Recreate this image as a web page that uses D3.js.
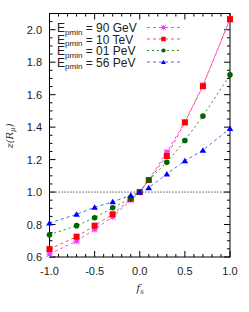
<!DOCTYPE html>
<html><head><meta charset="utf-8">
<script src="https://cdn.jsdelivr.net/npm/d3@7"></script>
<style>body{margin:0;background:#fff}svg{display:block}</style>
</head><body>
<svg id="c" width="249" height="312"></svg>
<script>
const fs = [-1.0, -0.7, -0.5, -0.3, -0.1, 0.0, 0.1, 0.3, 0.5, 0.7, 1.0];
const ser90GeV = [0.618, 0.698, 0.770, 0.848, 0.951, 1.0, 1.075, 1.246, 1.432, 1.658, 2.068];
const ser10TeV = [0.649, 0.725, 0.793, 0.863, 0.958, 1.0, 1.074, 1.222, 1.429, 1.652, 2.065];
const ser01PeV = [0.737, 0.793, 0.842, 0.903, 0.961, 1.0, 1.074, 1.183, 1.318, 1.468, 1.722];
const ser56PeV = [0.809, 0.863, 0.906, 0.940, 0.980, 1.0, 1.027, 1.111, 1.193, 1.258, 1.392];
const labels = ["90 GeV", "10 TeV", "01 PeV", "56 PeV"];
const xTicks = [-1.0, -0.5, 0.0, 0.5, 1.0];
const yTicks = [0.6, 0.8, 1.0, 1.2, 1.4, 1.6, 1.8, 2.0];

const series = [
  {vals: ser90GeV, color: "#ff33ff", sym: "x", dash: "3,3"},
  {vals: ser10TeV, color: "#ff0000", sym: "sq", dash: "3,3"},
  {vals: ser01PeV, color: "#006400", sym: "ci", dash: "2,3"},
  {vals: ser56PeV, color: "#0000ff", sym: "tr", dash: "3,3"}
];
const lineColors = ["#ff44ff", "#ff5050", "#338833", "#4466ff"];

const svg = d3.select("#c");
const L = 49.5, R = 230, T = 13.5, B = 257;
const x = d3.scaleLinear().domain([-1, 1]).range([L, R]);
const y = d3.scaleLinear().domain([0.6, 2.1]).range([B, T]);
const font = "'Liberation Sans', Arial, sans-serif";

svg.append("rect").attr("x", L).attr("y", T).attr("width", R - L).attr("height", B - T)
  .attr("fill", "none").attr("stroke", "#000").attr("stroke-width", 1);

const xMinor = d3.range(-10, 11).map(i => i / 10);
const yMinor = d3.range(12, 43).map(i => i / 20);
const tk = svg.append("g").attr("stroke", "#000").attr("stroke-width", 1);
xMinor.forEach(v => {
  const major = xTicks.some(t => Math.abs(t - v) < 1e-9);
  const len = major ? 6 : 3;
  tk.append("line").attr("x1", x(v)).attr("x2", x(v)).attr("y1", B).attr("y2", B - len);
  tk.append("line").attr("x1", x(v)).attr("x2", x(v)).attr("y1", T).attr("y2", T + len);
});
yMinor.forEach(v => {
  const major = yTicks.some(t => Math.abs(t - v) < 1e-9);
  const len = major ? 6 : 3;
  tk.append("line").attr("x1", L).attr("x2", L + len).attr("y1", y(v)).attr("y2", y(v));
  tk.append("line").attr("x1", R).attr("x2", R - len).attr("y1", y(v)).attr("y2", y(v));
});

svg.append("g").selectAll("text").data(xTicks).join("text")
  .attr("x", d => x(d)).attr("y", 275).attr("text-anchor", "middle")
  .attr("font-family", font).attr("font-size", 11).attr("fill", "#222")
  .text(d => d3.format(".1f")(d).replace("−", "-"));
svg.append("g").selectAll("text").data(yTicks).join("text")
  .attr("x", 42).attr("y", d => y(d) + 4).attr("text-anchor", "end")
  .attr("font-family", font).attr("font-size", 11).attr("fill", "#222")
  .text(d => d3.format(".1f")(d));

svg.append("text").attr("x", 140).attr("y", 292).attr("text-anchor", "middle")
  .attr("font-family", "'DejaVu Serif', serif").attr("font-style", "italic").attr("font-size", 11)
  .attr("fill", "#333")
  .html('f<tspan font-size="7" dy="2">s</tspan>');
svg.append("text").attr("transform", "translate(13,136) rotate(-90)").attr("text-anchor", "middle")
  .attr("font-family", "'DejaVu Serif', serif").attr("font-style", "italic").attr("font-size", 10)
  .attr("fill", "#333")
  .html('z(R<tspan font-size="7" dy="2">μ</tspan><tspan dy="-2">)</tspan>');

svg.append("line").attr("x1", x(-1)).attr("x2", x(1)).attr("y1", y(1)).attr("y2", y(1))
  .attr("stroke", "#000").attr("stroke-width", 1).attr("stroke-dasharray", "1,2");

function marker(g, sym, color, cx, cy, k) {
  if (sym === "sq") {
    const h = 3 * k;
    g.append("rect").attr("x", cx - h).attr("y", cy - h).attr("width", 2 * h).attr("height", 2 * h).attr("fill", color);
  } else if (sym === "ci") {
    g.append("circle").attr("cx", cx).attr("cy", cy).attr("r", 2.8 * k).attr("fill", color);
  } else if (sym === "tr") {
    g.append("path").attr("d", `M${cx},${cy - 3 * k}L${cx + 3.3 * k},${cy + 2.5 * k}L${cx - 3.3 * k},${cy + 2.5 * k}Z`).attr("fill", color);
  } else {
    const h = 2 * k, a = 3 * k;
    g.append("rect").attr("x", cx - h).attr("y", cy - h).attr("width", 2 * h).attr("height", 2 * h).attr("fill", color);
    g.append("path").attr("d", `M${cx - a},${cy - a}L${cx + a},${cy + a}M${cx + a},${cy - a}L${cx - a},${cy + a}M${cx},${cy - a}V${cy + a}M${cx - a},${cy}H${cx + a}`)
      .attr("stroke", color).attr("stroke-width", 1);
  }
}

const line = d3.line().x(d => x(d[0])).y(d => y(d[1]));
const plot = svg.append("g");
series.forEach((s, i) => {
  const pts = fs.map((f, j) => [f, s.vals[j]]);
  plot.append("path").attr("d", line(pts)).attr("fill", "none")
    .attr("stroke", lineColors[i]).attr("stroke-width", 1).attr("stroke-dasharray", s.dash);
  pts.forEach(p => marker(plot, s.sym, s.color, x(p[0]), y(p[1]), 1));
});

const lg = svg.append("g");
series.forEach((s, i) => {
  const ly = 27.5 + i * 11.5;
  lg.append("text").attr("x", 57).attr("y", ly + 4.5).attr("font-family", font).attr("font-size", 12).attr("fill", "#222")
    .html(`E<tspan font-size="8" dy="2.5">pmin</tspan><tspan dy="-2.5"> = ${labels[i]}</tspan>`);
  lg.append("line").attr("x1", 147).attr("x2", 180).attr("y1", ly).attr("y2", ly)
    .attr("stroke", lineColors[i]).attr("stroke-width", 1).attr("stroke-dasharray", s.dash);
  marker(lg, s.sym, s.color, 163.5, ly, 0.75);
});
</script>
</body></html>
